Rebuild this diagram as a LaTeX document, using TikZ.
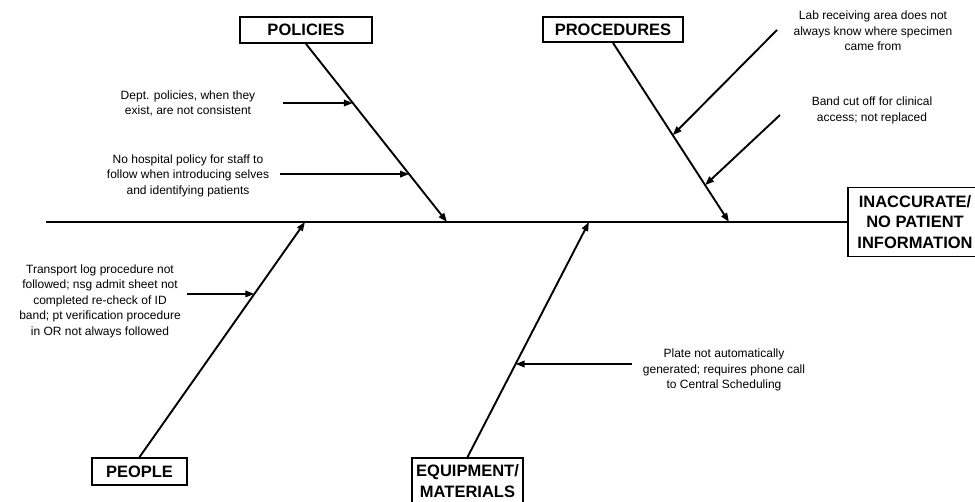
\documentclass[tikz,border=0pt]{standalone}
\usepackage{fontspec}
\setmainfont{Liberation Sans}
\usetikzlibrary{arrows.meta,calc,positioning}

\tikzset{
  cat/.style={draw, line width=1.8pt, inner sep=0pt, align=center,
    font=\fontsize{16.5}{20.5}\selectfont\bfseries},
  cause/.style={inner sep=0pt, align=center, font=\fontsize{12}{15.5}\selectfont},
  bone/.style={line width=1.9pt, -{Triangle[length=9pt,width=6.5pt]}},
}

\begin{document}
\begin{tikzpicture}[x=1pt, y=-1pt]
  \useasboundingbox (0,0) rectangle (975,502);

  \node[cat, minimum width=134pt, minimum height=69pt] (effect) at (915,222) {INACCURATE/\\NO PATIENT\\INFORMATION};
  \coordinate (tail) at (46,222);

  \node[cat, minimum width=132pt, minimum height=26pt] (pol) at (306,30) {POLICIES};
  \node[cat, minimum width=140pt, minimum height=25pt] (proc) at (613,29.5) {PROCEDURES};
  \node[cat, minimum width=95pt, minimum height=27pt] (peo) at (139.5,471.5) {PEOPLE};
  \node[cat, minimum width=111pt, minimum height=46pt] (equip) at (467.5,481) {EQUIPMENT/\\MATERIALS};

  \coordinate (pol-tip) at (447,222);
  \coordinate (proc-tip) at (729,222);
  \coordinate (peo-tip) at (305,222);
  \coordinate (equip-tip) at (589,222);

  % points where the causes meet the bones
  \coordinate (dept-end) at ($(pol.south)!0.332!(pol-tip)$);
  \coordinate (hosp-end) at ($(pol.south)!0.731!(pol-tip)$);
  \coordinate (lab-end) at ($(proc.south)!0.515!(proc-tip)$);
  \coordinate (band-end) at ($(proc.south)!0.794!(proc-tip)$);
  \coordinate (trans-end) at ($(peo.north)!0.694!(peo-tip)$);
  \coordinate (plate-end) at ($(equip.north)!0.396!(equip-tip)$);

  \coordinate[left=70pt of dept-end] (dept-start);
  \coordinate[left=129pt of hosp-end] (hosp-start);
  \coordinate (lab-start) at (777,30);
  \coordinate (band-start) at (780,115);
  \coordinate[left=67pt of trans-end] (trans-start);
  \coordinate[right=116pt of plate-end] (plate-start);

  \node[cause] (dept) at (188,103.5) {Dept. policies, when they\\exist, are not consistent};
  \node[cause] (hosp) at (188,175.5) {No hospital policy for staff to\\follow when introducing selves\\and identifying patients};
  \node[cause] (lab) at (873,31) {Lab receiving area does not\\always know where specimen\\came from};
  \node[cause] (band) at (872,110.5) {Band cut off for clinical\\access; not replaced};
  \node[cause] (trans) at (100,301) {Transport log procedure not\\followed; nsg admit sheet not\\completed re-check of ID\\band; pt verification procedure\\in OR not always followed};
  \node[cause] (plate) at (724,370) {Plate not automatically\\generated; requires phone call\\to Central Scheduling};

  \draw[line width=1.9pt] (tail) -- (effect.west);

  \draw[bone] (pol.south) -- (pol-tip);
  \draw[bone] (proc.south) -- (proc-tip);
  \draw[bone] (peo.north) -- (peo-tip);
  \draw[bone] (equip.north) -- (equip-tip);

  \draw[bone] (dept-start) -- (dept-end);
  \draw[bone] (hosp-start) -- (hosp-end);
  \draw[bone] (lab-start) -- (lab-end);
  \draw[bone] (band-start) -- (band-end);
  \draw[bone] (trans-start) -- (trans-end);
  \draw[bone] (plate-start) -- (plate-end);
\end{tikzpicture}
\end{document}
